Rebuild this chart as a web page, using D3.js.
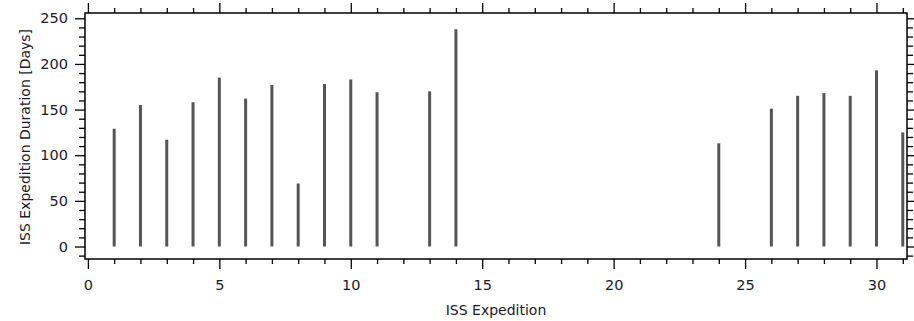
<!DOCTYPE html>
<html>
<head>
<meta charset="utf-8">
<script src="https://cdn.jsdelivr.net/npm/d3@7"></script>
<style>
  body { margin: 0; background: #fff; }
  svg text { font-family: "DejaVu Sans", sans-serif; fill: #1a1a2a; }
</style>
</head>
<body>
<div id="chart"></div>
<script>
// ISS expedition number and duration (days)
var expeditions = [1, 2, 3, 4, 5, 6, 7, 8, 9, 10, 11, 13, 14, 24, 26, 27, 28, 29, 30, 31];
var durations = [129, 155, 117, 158, 185, 162, 177, 69, 178, 183, 169, 170, 238, 113, 151, 165, 168, 165, 193, 125];
var xTickLabels = [0, 5, 10, 15, 20, 25, 30];
var yTickLabels = [0, 50, 100, 150, 200, 250];

var svgWidth = 914;
var svgHeight = 321;
var margin = { top: 13, right: 7, bottom: 62, left: 85 };
var width = svgWidth - margin.left - margin.right;
var height = svgHeight - margin.top - margin.bottom;

var svg = d3.select("#chart")
  .append("svg")
  .attr("width", svgWidth)
  .attr("height", svgHeight);

var chartGroup = svg.append("g")
  .attr("transform", `translate(${margin.left}, ${margin.top})`);

var data = expeditions.map((e, i) => ({ exp: e, days: durations[i] }));

var xScale = d3.scaleLinear().domain([-0.11, 31.16]).range([0, width]);
var yScale = d3.scaleLinear().domain([-13.7, 255.8]).range([height, 0]);

var xMinor = d3.range(0, 32).filter(v => v % 5 !== 0);
var yMinor = d3.range(-10, 256, 10).filter(v => v % 50 !== 0);

function styleAxis(g) {
  g.select(".domain").remove();
  g.selectAll("line").attr("stroke", "#000").attr("stroke-width", 1.3);
  g.selectAll("text").attr("font-size", "14.5px");
}

// bottom
chartGroup.append("g")
  .attr("transform", `translate(0, ${height})`)
  .call(d3.axisBottom(xScale).tickValues(xTickLabels).tickSize(10).tickPadding(11))
  .call(styleAxis);
chartGroup.append("g")
  .attr("transform", `translate(0, ${height})`)
  .call(d3.axisBottom(xScale).tickValues(xMinor).tickSize(5).tickFormat(""))
  .call(styleAxis);

// top
chartGroup.append("g")
  .call(d3.axisTop(xScale).tickValues(xTickLabels).tickSize(10).tickFormat(""))
  .call(styleAxis);
chartGroup.append("g")
  .call(d3.axisTop(xScale).tickValues(xMinor).tickSize(5).tickFormat(""))
  .call(styleAxis);

// left
chartGroup.append("g")
  .call(d3.axisLeft(yScale).tickValues(yTickLabels).tickSize(10).tickPadding(7))
  .call(styleAxis);
chartGroup.append("g")
  .call(d3.axisLeft(yScale).tickValues(yMinor).tickSize(6).tickFormat(""))
  .call(styleAxis);

// right
chartGroup.append("g")
  .attr("transform", `translate(${width}, 0)`)
  .call(d3.axisRight(yScale).tickValues(yTickLabels).tickSize(7).tickFormat(""))
  .call(styleAxis);
chartGroup.append("g")
  .attr("transform", `translate(${width}, 0)`)
  .call(d3.axisRight(yScale).tickValues(yMinor).tickSize(6).tickFormat(""))
  .call(styleAxis);

// bars (drawn as sticks from zero)
chartGroup.selectAll(".stick")
  .data(data)
  .enter()
  .append("line")
  .attr("class", "stick")
  .attr("x1", d => xScale(d.exp))
  .attr("x2", d => xScale(d.exp))
  .attr("y1", yScale(0))
  .attr("y2", d => yScale(d.days))
  .attr("stroke", "#555")
  .attr("stroke-width", 3);

// frame
chartGroup.append("rect")
  .attr("width", width)
  .attr("height", height)
  .attr("fill", "none")
  .attr("stroke", "#000")
  .attr("stroke-width", 1.5);

chartGroup.append("text")
  .attr("transform", "rotate(-90)")
  .attr("x", 0 - 124)
  .attr("y", 0 - margin.left + 30)
  .attr("text-anchor", "middle")
  .attr("font-size", "14px")
  .text("ISS Expedition Duration [Days]");

chartGroup.append("text")
  .attr("x", width / 2)
  .attr("y", height + 56)
  .attr("text-anchor", "middle")
  .attr("font-size", "14px")
  .text("ISS Expedition");
</script>
</body>
</html>
